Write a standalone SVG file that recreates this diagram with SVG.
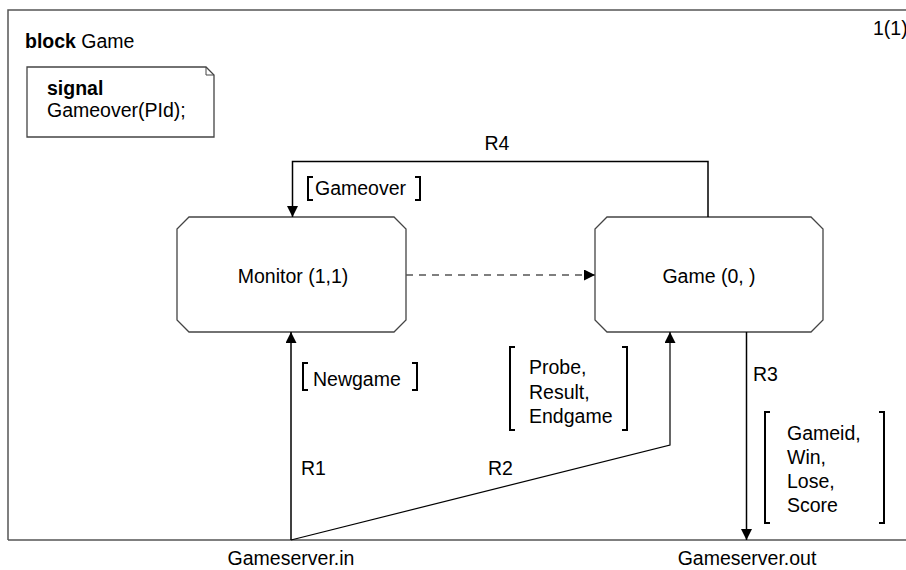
<svg xmlns="http://www.w3.org/2000/svg" width="906" height="570" viewBox="0 0 906 570">
<defs>
<style>
text{font-family:"Liberation Sans",Arial,sans-serif;font-size:19.5px;fill:#000}
.b{font-weight:bold}
.box{fill:#fff;stroke:#444;stroke-width:1.3}
.ln{fill:none;stroke:#000;stroke-width:1.5}
.br{fill:none;stroke:#000;stroke-width:2}
</style>
<marker id="ah" viewBox="0 0 10 10" refX="10" refY="5" markerWidth="11" markerHeight="11" markerUnits="userSpaceOnUse" orient="auto"><path d="M0,0L10,5L0,10z" fill="#000"/></marker>
</defs>
<rect width="906" height="570" fill="#fff"/>
<path d="M8,540V10H906" fill="none" stroke="#555" stroke-width="1.5"/>
<line x1="8" y1="540" x2="906" y2="540" stroke="#555" stroke-width="1.5"/>
<text x="25" y="48"><tspan class="b">block</tspan> Game</text>
<text x="873" y="35">1(1)</text>
<g id="note">
<path class="box" d="M27,67H206L214,75V137H27Z"/>
<path d="M206,67V75H214" fill="none" stroke="#444" stroke-width="1"/>
<text x="47" y="95" class="b">signal</text>
<text x="47" y="117">Gameover(PId);</text>
</g>
<g id="monitor">
<path class="box" d="M189,217H394L406,229V320L394,332H189L177,320V229Z"/>
<text x="293" y="283" text-anchor="middle">Monitor (1,1)</text>
</g>
<g id="game">
<path class="box" d="M607,217H811L823,229V320L811,332H607L595,320V229Z"/>
<text x="709" y="283" text-anchor="middle">Game (0, )</text>
</g>
<g id="connectors">
<line x1="406" y1="275" x2="595" y2="275" stroke="#555" stroke-width="1.3" stroke-dasharray="7,6" marker-end="url(#ah)"/>
<path class="ln" d="M708,217V161.5H292.5V217" marker-end="url(#ah)"/>
<line class="ln" x1="291" y1="540" x2="291" y2="332" marker-end="url(#ah)"/>
<path d="M291,540L670,445V332" fill="none" stroke="#000" stroke-width="1.2" marker-end="url(#ah)"/>
<line class="ln" x1="746.5" y1="332" x2="746.5" y2="540" marker-end="url(#ah)"/>
<text x="497" y="150" text-anchor="middle">R4</text>
<text x="301" y="475">R1</text>
<text x="488" y="475">R2</text>
<text x="753" y="381">R3</text>
<path class="br" d="M313,177H308V200H313M415,177H420V200H415"/>
<text x="315" y="195">Gameover</text>
<path class="br" d="M308,363H303V390H308M412,363H417V390H412"/>
<text x="313" y="386">Newgame</text>
<path class="br" d="M515,347H510V430H515M622,347H627V430H622"/>
<text x="529" y="374">Probe,</text>
<text x="529" y="399">Result,</text>
<text x="529" y="423">Endgame</text>
<path class="br" d="M770,412H765V523H770M879,412H884V523H879"/>
<text x="787" y="440">Gameid,</text>
<text x="787" y="464">Win,</text>
<text x="787" y="488">Lose,</text>
<text x="787" y="512">Score</text>
</g>
<text x="291" y="565" text-anchor="middle">Gameserver.in</text>
<text x="747" y="565" text-anchor="middle">Gameserver.out</text>
</svg>
